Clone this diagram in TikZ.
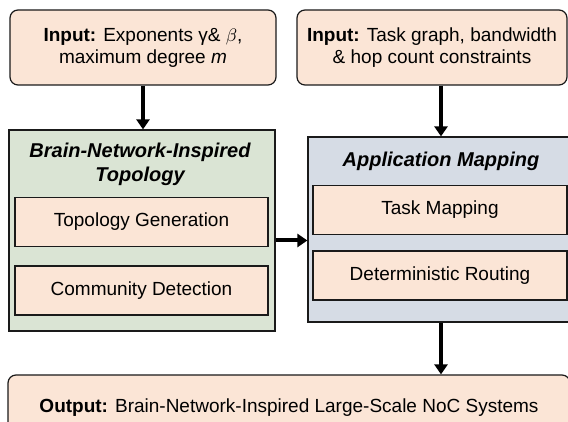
\documentclass[tikz,border=0pt]{standalone}
\usepackage{fontspec}
\setmainfont{Liberation Sans}
\usepackage{xcolor}
\definecolor{peach}{HTML}{FBE5D6}
\definecolor{sage}{HTML}{DAE4D4}
\definecolor{steel}{HTML}{D6DCE5}
\definecolor{ink}{HTML}{1A1A1A}
\usetikzlibrary{calc,arrows.meta,positioning}

\tikzset{
  iobox/.style={draw=ink, line width=0.6pt, fill=peach, rounded corners=4pt, align=center, inner sep=0pt},
  stagebox/.style={draw=ink, line width=0.6pt, fill=peach, align=center, inner sep=0pt,
    minimum width=126.5pt, minimum height=24.5pt},
  groupbox/.style={draw=ink, line width=0.6pt, inner sep=0pt},
  grouptitle/.style={align=center, font=\bfseries\itshape},
  flowarrow/.style={line width=2pt, -{Triangle[length=5pt,width=6.5pt]}}
}

\begin{document}
\begin{tikzpicture}[x=0.5pt, y=0.5pt, font=\fontsize{9.5}{11}\selectfont]

  \clip (0,0) rectangle (568,422);

  % ---------- inputs
  \node[iobox, minimum width=133pt, minimum height=37.5pt] (in1) at (143,374.5)
    {\textbf{Input:} Exponents γ\& $\beta$,\\ maximum degree \textit{m}};
  \node[iobox, minimum width=135pt, minimum height=37.5pt] (in2) at (432,374.5)
    {\textbf{Input:} Task graph, bandwidth\\ \& hop count constraints};

  % ---------- brain-network-inspired topology
  \node[groupbox, fill=sage, minimum width=133pt, minimum height=100.5pt] (topo) at (142,191.5) {};
  \node[grouptitle] (topot) at (140,258) {Brain-Network-Inspired\\ Topology};
  \node[stagebox] (tgen) at (141.5,200) {Topology Generation};
  \node[stagebox] (cdet) at (141.5,131.5) {Community Detection};

  % ---------- application mapping
  \node[groupbox, fill=steel, minimum width=133pt, minimum height=92.5pt] (map) at (441,192.5) {};
  \node[grouptitle] (mapt) at (441,261) {Application Mapping};
  \node[stagebox, minimum width=127pt] (tmap) at (440,212) {Task Mapping};
  \node[stagebox, minimum width=127pt] (drout) at (440,146.5) {Deterministic Routing};

  % ---------- output
  \node[iobox, minimum width=281pt, minimum height=33pt] (out) at (289,14)
    {\textbf{Output:} Brain-Network-Inspired Large-Scale NoC Systems};

  % ---------- flow
  \draw[flowarrow] (in1.south) -- (in1.south |- topo.north);
  \draw[flowarrow] (in2.south -| map) -- (map.north);
  \draw[flowarrow] ([yshift=-5pt]topo.east) -- ([yshift=-5pt]topo.east -| map.west);
  \draw[flowarrow] (map.south) -- (map.south |- out.north);

\end{tikzpicture}
\end{document}
